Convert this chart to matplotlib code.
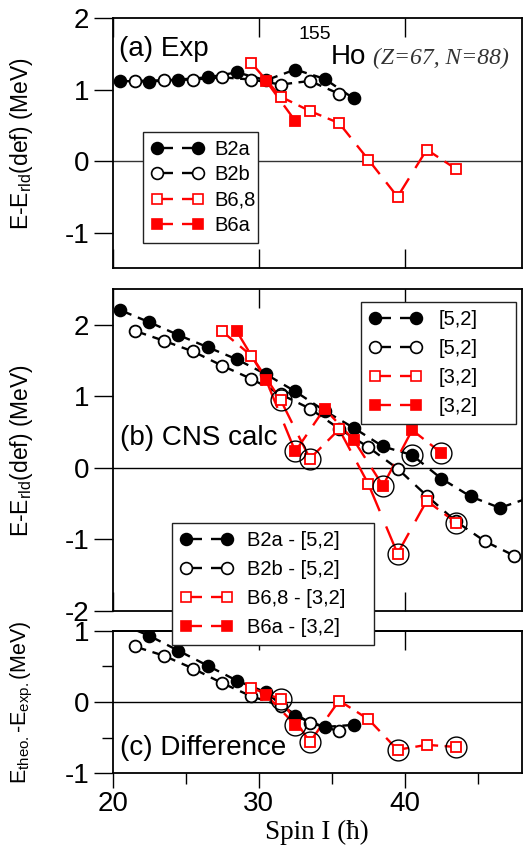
import matplotlib
matplotlib.use('Agg')
import matplotlib.pyplot as plt
import numpy as np
from matplotlib.lines import Line2D

plt.rcParams['font.family'] = ['Liberation Sans', 'DejaVu Sans']
plt.rcParams['mathtext.fontset'] = 'custom'
plt.rcParams['mathtext.rm'] = 'Liberation Sans'
plt.rcParams['mathtext.it'] = 'Liberation Sans:italic'
plt.rcParams['lines.scale_dashes'] = False
plt.rcParams['axes.unicode_minus'] = False

# ---------------- data ----------------
# panel (a) experiment
a_b2a_spin = [20.5, 22.5, 24.5, 26.5, 28.5, 30.5, 32.5, 34.5, 36.5]
a_b2a_e = [1.12, 1.11, 1.14, 1.17, 1.24, 1.13, 1.28, 1.15, 0.875]
a_b2b_spin = [21.5, 23.5, 25.5, 27.5, 29.5, 31.5, 33.5, 35.5]
a_b2b_e = [1.12, 1.13, 1.14, 1.17, 1.14, 1.07, 1.12, 0.94]
a_b68_spin = [29.5, 31.5, 33.5, 35.5, 37.5, 39.5, 41.5, 43.5]
a_b68_e = [1.37, 0.90, 0.70, 0.53, 0.02, -0.50, 0.16, -0.11]
a_b6a_spin = [30.5, 32.5]
a_b6a_e = [1.12, 0.56]

# panel (b) CNS calculation
b_52f_spin = [20.5, 22.5, 24.5, 26.5, 28.5, 30.5, 32.5, 34.5, 36.5, 38.5, 40.5, 42.5, 44.5, 46.5, 48.5]
b_52f_e = [2.21, 2.04, 1.86, 1.69, 1.52, 1.31, 1.07, 0.80, 0.56, 0.30, 0.18, -0.15, -0.40, -0.56, -0.42]
b_52o_spin = [21.5, 23.5, 25.5, 27.5, 29.5, 31.5, 33.5, 35.5, 37.5, 39.5, 41.5, 43.5, 45.5, 47.5]
b_52o_e = [1.92, 1.78, 1.63, 1.43, 1.245, 1.03, 0.83, 0.55, 0.29, -0.01, -0.39, -0.75, -1.03, -1.23]
b_32o_spin = [27.5, 29.5, 31.5, 33.5, 35.5, 37.5, 39.5, 41.5, 43.5]
b_32o_e = [1.91, 1.57, 0.95, 0.13, 0.54, -0.225, -1.20, -0.46, -0.765]
b_32f_spin = [28.5, 30.5, 32.5, 34.5, 36.5, 38.5, 40.5, 42.5]
b_32f_e = [1.91, 1.23, 0.23, 0.83, 0.39, -0.25, 0.53, 0.21]
b_circ_spin = [31.5, 32.5, 33.5, 38.5, 39.5, 40.5, 42.5, 43.5]
b_circ_e = [0.95, 0.23, 0.13, -0.25, -1.20, 0.18, 0.21, -0.765]

# panel (c) difference
c_b2a_spin = [20.5, 22.5, 24.5, 26.5, 28.5, 30.5, 32.5, 34.5, 36.5]
c_b2a_e = [1.10, 0.93, 0.72, 0.51, 0.30, 0.135, -0.20, -0.35, -0.32]
c_b2b_spin = [21.5, 23.5, 25.5, 27.5, 29.5, 31.5, 33.5, 35.5]
c_b2b_e = [0.78, 0.65, 0.47, 0.265, 0.08, -0.05, -0.29, -0.41]
c_b68_spin = [29.5, 31.5, 33.5, 35.5, 37.5, 39.5, 41.5, 43.5]
c_b68_e = [0.195, 0.04, -0.56, 0.02, -0.24, -0.67, -0.60, -0.63]
c_b6a_spin = [30.5, 32.5]
c_b6a_e = [0.10, -0.32]
c_circ_spin = [31.5, 32.5, 33.5, 39.5, 43.5]
c_circ_e = [0.04, -0.32, -0.56, -0.67, -0.63]

legend_a = ['B2a', 'B2b', 'B6,8', 'B6a']
legend_b = ['[5,2]', '[5,2]', '[3,2]', '[3,2]']
legend_c = ['B2a - [5,2]', 'B2b - [5,2]', 'B6,8 - [3,2]', 'B6a - [3,2]']

RED = '#ff0000'
STYLES = [  # (color, marker, filled, markersize)
    ('black', 'o', True, 8.5),
    ('black', 'o', False, 8.5),
    (RED, 's', False, 7.4),
    (RED, 's', True, 7.4),
]
LW = 1.7
ON, OFF = 0.39, 0.22

fig = plt.figure(figsize=(5.27, 8.55), dpi=100)
L, W = 0.2139, 0.776
ax_a = fig.add_axes([L, 0.6862, W, 0.2927])
ax_b = fig.add_axes([L, 0.2857, W, 0.3759])
ax_c = fig.add_axes([L, 0.0955, W, 0.1668])

ylims = {ax_a: (-1.5, 2.0), ax_b: (-2.0, 2.5), ax_c: (-1.0, 1.0)}
for ax, yl in ylims.items():
    ax.set_xlim(20, 48)
    ax.set_ylim(*yl)
    for s in ax.spines.values():
        s.set_linewidth(1.3)
    ax.axhline(0, color='#333333' if ax is ax_a else 'black', lw=1.0, zorder=1)
    ax.tick_params(axis='y', direction='out', length=14, width=1.0, labelsize=20, pad=3)
    ax.set_yticks(np.arange(np.ceil(yl[0]), yl[1] + 0.01, 1.0))


def draw_series(ax, x, y, style):
    color, marker, filled, ms = style
    x = np.asarray(x, float)
    y = np.asarray(y, float)
    pts = ax.transData.transform(np.column_stack([x, y]))
    for i in range(len(x) - 1):
        d = np.hypot(*(pts[i + 1] - pts[i])) * 72.0 / fig.dpi
        ax.plot(x[i:i + 2], y[i:i + 2], color=color, lw=LW,
                dashes=(ON * d, OFF * d), dash_capstyle='butt', zorder=2)
    ax.plot(x, y, ls='none', marker=marker, ms=ms,
            mfc=color if filled else 'white', mec=color, mew=1.3, zorder=3)


def proxies(seglen):
    hs = []
    for color, marker, filled, ms in STYLES:
        hs.append(Line2D([], [], color=color, lw=LW, marker=marker, ms=ms,
                         mfc=color if filled else 'white', mec=color, mew=1.2,
                         dashes=(ON * seglen, OFF * seglen), dash_capstyle='butt'))
    return hs


# panel (a)
draw_series(ax_a, a_b2a_spin, a_b2a_e, STYLES[0])
draw_series(ax_a, a_b2b_spin, a_b2b_e, STYLES[1])
draw_series(ax_a, a_b68_spin, a_b68_e, STYLES[2])
draw_series(ax_a, a_b6a_spin, a_b6a_e, STYLES[3])

# panel (b)
draw_series(ax_b, b_52f_spin, b_52f_e, STYLES[0])
draw_series(ax_b, b_52o_spin, b_52o_e, STYLES[1])
draw_series(ax_b, b_32o_spin, b_32o_e, STYLES[2])
draw_series(ax_b, b_32f_spin, b_32f_e, STYLES[3])
ax_b.plot(b_circ_spin, b_circ_e, ls='none', marker='o', ms=15, mfc='none',
          mec='black', mew=1.0, zorder=4)

# panel (c)
draw_series(ax_c, c_b2a_spin, c_b2a_e, STYLES[0])
draw_series(ax_c, c_b2b_spin, c_b2b_e, STYLES[1])
draw_series(ax_c, c_b68_spin, c_b68_e, STYLES[2])
draw_series(ax_c, c_b6a_spin, c_b6a_e, STYLES[3])
ax_c.plot(c_circ_spin, c_circ_e, ls='none', marker='o', ms=15, mfc='none',
          mec='black', mew=1.0, zorder=4)

# x ticks
for ax in (ax_a, ax_b):
    ax.set_xticks([20, 30, 40])
    ax.tick_params(axis='x', direction='in', length=14, width=1.0, top=True,
                   labelbottom=False)
ax_c.set_xticks([20, 30, 40])
ax_c.set_xticks([25, 35, 45], minor=True)
ax_c.tick_params(axis='x', which='major', direction='out', length=11, width=1.0,
                 labelsize=20, pad=2)
ax_c.tick_params(axis='x', which='minor', direction='out', length=8, width=1.0)
ax_c.set_yticks([-0.5, 0.5], minor=True)
ax_c.tick_params(axis='y', which='minor', direction='out', length=8, width=1.0)
sec = ax_c.secondary_xaxis('top')
sec.set_xticks([30, 40])
sec.tick_params(direction='in', length=14, width=1.0, labeltop=False)
for s in sec.spines.values():
    s.set_linewidth(1.3)

# labels
ylab = r'E-E$_{\mathrm{rld}}$(def) (MeV)'
for ax in (ax_a, ax_b):
    ax.set_ylabel(ylab, fontsize=16.5)
    ax.yaxis.set_label_coords(-0.19, 0.5)
ax_c.set_ylabel(r'E$_{\mathrm{theo.}}$-E$_{\mathrm{exp.}}$(MeV)', fontsize=15.5)
ax_c.yaxis.set_label_coords(-0.19, 0.5)
ax_c.set_xlabel('Spin I (\u0127)', fontsize=19.5, family=['Liberation Serif', 'DejaVu Serif'],
                labelpad=2)

# annotations
ax_a.text(0.015, 0.875, '(a) Exp', transform=ax_a.transAxes, fontsize=20,
          va='center', ha='left')
ax_a.text(0.455, 0.935, '155', transform=ax_a.transAxes, fontsize=14,
          va='center', ha='left')
ax_a.text(0.533, 0.845, 'Ho', transform=ax_a.transAxes, fontsize=20,
          va='center', ha='left')
ax_a.text(0.636, 0.84, '(Z=67, N=88)', transform=ax_a.transAxes, fontsize=17,
          va='center', ha='left', style='italic', color='#333333',
          family=['Liberation Serif', 'DejaVu Serif'])
ax_b.text(0.017, 0.537, '(b) CNS calc', transform=ax_b.transAxes, fontsize=20,
          va='center', ha='left')
ax_c.text(0.017, 0.18, '(c) Difference', transform=ax_c.transAxes, fontsize=20,
          va='center', ha='left')

# legends
fs_leg = 14.5
seg = 29.5
common = dict(borderaxespad=0, fontsize=fs_leg, numpoints=2,
              handlelength=seg / fs_leg + 0.6, fancybox=False, framealpha=1,
              edgecolor='#222222', borderpad=0.4, mode='expand')
leg_a = ax_a.legend(proxies(seg), legend_a, loc='upper left',
                    bbox_to_anchor=(0.074, 0.545, 0.281, 0), handletextpad=0.5,
                    labelspacing=0.32, **common)
leg_a.get_frame().set_linewidth(1.0)

leg_b = ax_b.legend(proxies(seg), legend_b, loc='upper left',
                    bbox_to_anchor=(0.607, 0.9605, 0.378, 0), handletextpad=0.8,
                    labelspacing=0.5, **common)
leg_b.get_frame().set_linewidth(1.0)

leg_c = fig.legend(proxies(seg), legend_c, loc='upper left',
                   bbox_to_anchor=(0.3258, 0.3883, 0.3844, 0),
                   bbox_transform=fig.transFigure, handletextpad=0.7,
                   labelspacing=0.5, **common)
leg_c.get_frame().set_linewidth(1.0)
leg_c.set_zorder(10)

fig.savefig('out.png', dpi=100)
